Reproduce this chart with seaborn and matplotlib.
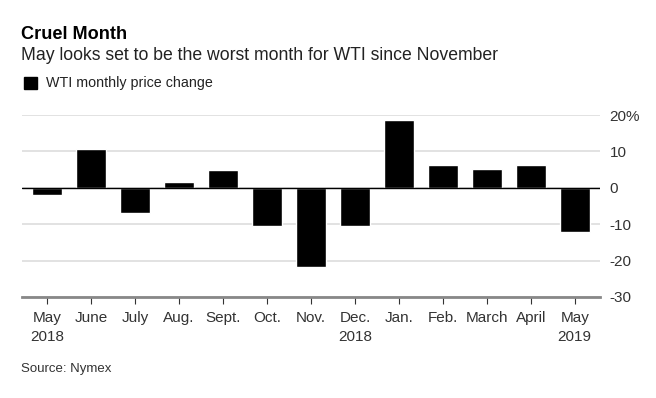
import pandas as pd
import matplotlib.pyplot as plt
import seaborn as sns

# data
months = ['May\n2018', 'June', 'July', 'Aug.', 'Sept.', 'Oct.', 'Nov.',
          'Dec.\n2018', 'Jan.', 'Feb.', 'March', 'April', 'May\n2019']
change = [-2.0, 10.8, -7.0, 1.7, 5.0, -10.5, -21.8,
          -10.5, 18.5, 6.4, 5.3, 6.4, -12.2]
yticks = [-30, -20, -10, 0, 10, 20]
ytick_labels = ['-30', '-20', '-10', '0', '10', '20%']

df = pd.DataFrame({'month': months, 'change': change})

sns.set_style('white')
plt.rcParams['font.family'] = ['Liberation Sans', 'DejaVu Sans']

fig = plt.figure(figsize=(6.56, 3.98), dpi=100)
ax = fig.add_axes([0.0335, 0.2538, 0.8811, 0.4572])

sns.barplot(data=df, x='month', y='change', color='black', saturation=1,
            width=0.68, ax=ax, zorder=3)

ax.set_xlim(-0.575, 12.575)
ax.set_ylim(-30, 20)
ax.set_yticks(yticks)
ax.set_yticklabels(ytick_labels)
ax.yaxis.tick_right()
ax.grid(axis='y', color='#dddddd', linewidth=1.2, zorder=0)
ax.axhline(0, color='black', linewidth=1, zorder=4)

for s in ['top', 'left', 'right']:
    ax.spines[s].set_visible(False)
ax.spines['bottom'].set_color('#888888')
ax.spines['bottom'].set_linewidth(2)
ax.spines['bottom'].set_zorder(5)

ax.tick_params(axis='y', length=0, pad=7, labelsize=11, labelcolor='#333333')
ax.tick_params(axis='x', length=5, width=0.8, color='#333333', direction='out',
               pad=5, labelsize=11, labelcolor='#333333', bottom=True)
for lbl in ax.get_xticklabels():
    lbl.set_linespacing(1.5)
ax.set_xlabel('')
ax.set_ylabel('')

fig.text(0.032, 0.913, 'Cruel Month', fontsize=13.1, fontweight='bold',
         color='black', va='center')
fig.text(0.032, 0.86, 'May looks set to be the worst month for WTI since November',
         fontsize=12.7, color='#222222', va='center')
fig.patches.append(plt.Rectangle((0.0366, 0.7764), 0.0198, 0.030, color='black',
                                 transform=fig.transFigure, figure=fig))
fig.text(0.0700, 0.7915, 'WTI monthly price change', fontsize=10.3,
         color='#222222', va='center')
fig.text(0.032, 0.073, 'Source: Nymex', fontsize=9.5, color='#333333', va='center')

fig.savefig('out.png', dpi=100, facecolor='white')
